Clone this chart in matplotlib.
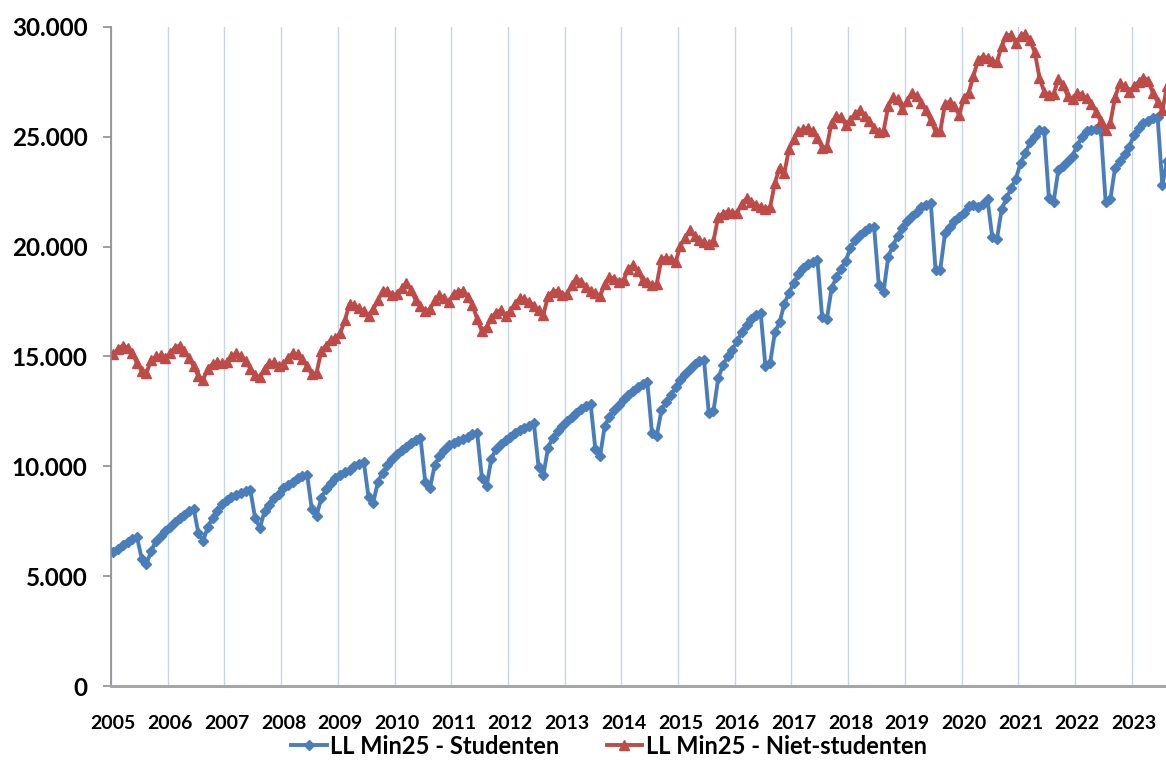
import matplotlib
matplotlib.use("Agg")
import matplotlib.pyplot as plt
from matplotlib.ticker import FuncFormatter, FixedLocator
import numpy as np

plt.rcParams['font.family'] = ['Lato', 'DejaVu Sans']

years = list(range(2005, 2024))
year_labels = [str(y) for y in years]
series_names = ["LL Min25 - Studenten", "LL Min25 - Niet-studenten"]

# monthly values, Jan 2005 .. Aug 2023
studenten = [
    6100, 6250, 6400, 6550, 6700, 6780, 5800, 5550, 6150, 6600, 6850, 7050,   # 2005
    7250, 7450, 7650, 7800, 7950, 8080, 6950, 6600, 7250, 7650, 7950, 8300,   # 2006
    8450, 8600, 8700, 8800, 8870, 8900, 7650, 7200, 7950, 8250, 8550, 8750,   # 2007
    9000, 9150, 9300, 9450, 9550, 9620, 8050, 7750, 8550, 8950, 9250, 9450,   # 2008
    9600, 9750, 9850, 10000, 10100, 10200, 8600, 8350, 9300, 9700, 10050, 10350,  # 2009
    10550, 10750, 10900, 11050, 11200, 11300, 9300, 9000, 10050, 10450, 10750, 10950,  # 2010
    11050, 11150, 11250, 11350, 11450, 11500, 9450, 9100, 10350, 10800, 11000, 11200,  # 2011
    11350, 11500, 11650, 11750, 11850, 11950, 9950, 9600, 10850, 11300, 11600, 11850,  # 2012
    12050, 12250, 12450, 12600, 12750, 12850, 10800, 10450, 11850, 12250, 12550, 12800,  # 2013
    13050, 13250, 13450, 13600, 13750, 13850, 11500, 11400, 12550, 12950, 13250, 13600,  # 2014
    13950, 14200, 14450, 14650, 14800, 14850, 12450, 12500, 14000, 14600, 15000, 15300,  # 2015
    15700, 16100, 16450, 16700, 16900, 16980, 14550, 14700, 16100, 16550, 17400, 17900,  # 2016
    18350, 18750, 19050, 19200, 19320, 19400, 16800, 16700, 18100, 18600, 19000, 19350,  # 2017
    19950, 20300, 20550, 20700, 20850, 20900, 18250, 17950, 19550, 20050, 20500, 20850,  # 2018
    21150, 21400, 21600, 21800, 21900, 21980, 18950, 18950, 20600, 20900, 21150, 21350,  # 2019
    21550, 21850, 21900, 21800, 21950, 22150, 20450, 20350, 21700, 22200, 22650, 23100,  # 2020
    23800, 24250, 24750, 25050, 25300, 25250, 22200, 22050, 23500, 23650, 23900, 24150,  # 2021
    24600, 25000, 25250, 25300, 25350, 25250, 22050, 22150, 23600, 23900, 24200, 24550,  # 2022
    25080, 25400, 25630, 25700, 25840, 25900, 22800, 23900,                              # 2023
]

niet_studenten = [
    15100, 15350, 15500, 15400, 15150, 14700, 14350, 14250, 14850, 15000, 15050, 14950,  # 2005
    15150, 15400, 15500, 15250, 14950, 14550, 14100, 13950, 14450, 14650, 14750, 14700,  # 2006
    14750, 15000, 15150, 15000, 14800, 14450, 14150, 14050, 14450, 14700, 14750, 14550,  # 2007
    14650, 14950, 15150, 15100, 14900, 14550, 14200, 14250, 15250, 15500, 15750, 15850,  # 2008
    16050, 16650, 17400, 17350, 17200, 17050, 16850, 17150, 17550, 18000, 18000, 17800,  # 2009
    17850, 18100, 18350, 18050, 17550, 17300, 17050, 17150, 17550, 17800, 17650, 17500,  # 2010
    17850, 17950, 18000, 17700, 17350, 16700, 16150, 16350, 16750, 17000, 17100, 16850,  # 2011
    17050, 17400, 17650, 17600, 17500, 17300, 17100, 16900, 17750, 17950, 18000, 17800,  # 2012
    17850, 18250, 18550, 18400, 18150, 18000, 17900, 17750, 18300, 18600, 18550, 18400,  # 2013
    18500, 19000, 19150, 18900, 18500, 18400, 18250, 18300, 19450, 19500, 19450, 19300,  # 2014
    20050, 20400, 20750, 20500, 20300, 20200, 20100, 20250, 21350, 21500, 21600, 21550,  # 2015
    21550, 21950, 22200, 22050, 21900, 21800, 21700, 21800, 22900, 23600, 23350, 24450,  # 2016
    24900, 25250, 25350, 25400, 25250, 24950, 24500, 24550, 25650, 25950, 25900, 25550,  # 2017
    25750, 26050, 26200, 25950, 25700, 25400, 25200, 25250, 26400, 26800, 26700, 26250,  # 2018
    26650, 27000, 26850, 26550, 26200, 25750, 25250, 25250, 26500, 26600, 26400, 26000,  # 2019
    26750, 27000, 27750, 28500, 28650, 28600, 28450, 28400, 29150, 29600, 29650, 29250,  # 2020
    29600, 29700, 29400, 28850, 27700, 27050, 26900, 26950, 27650, 27350, 26850, 26700,  # 2021
    27000, 26900, 26750, 26500, 26150, 25700, 25300, 25650, 26800, 27450, 27300, 27050,  # 2022
    27300, 27500, 27700, 27550, 27000, 26600, 26200, 27300,                              # 2023
]

blue = '#4A7EBB'
red = '#BE4B48'

fig = plt.figure(figsize=(11.66, 7.69), dpi=100)
ax = fig.add_axes([111/1166, 1 - 686/769, 1 - 111/1166 + 0.0005, (686 - 27)/769])

x_s = np.arange(len(studenten))
x_n = np.arange(len(niet_studenten))

ax.plot(x_s, studenten, color=blue, lw=2.8, marker='D', ms=5.2,
        markerfacecolor=blue, markeredgecolor=blue, label=series_names[0], clip_on=True)
ax.plot(x_n, niet_studenten, color=red, lw=2.8, marker='^', ms=7,
        markerfacecolor=red, markeredgecolor=red, label=series_names[1], clip_on=True)

ax.set_xlim(-0.5, 222.9)
ax.set_ylim(0, 30000)

# year gridlines between Dec and Jan, labels centred on Jan
grid_pos = [12 * k - 0.5 for k in range(len(years))]
ax.xaxis.set_major_locator(FixedLocator(grid_pos))
ax.xaxis.set_minor_locator(FixedLocator([12 * k for k in range(len(years))]))
ax.set_xticklabels([''] * len(grid_pos))
ax.xaxis.set_minor_formatter(FuncFormatter(lambda v, p: year_labels[int(round(v / 12))]))
ax.tick_params(axis='x', which='major', length=0)
ax.tick_params(axis='x', which='minor', length=0, pad=21, labelsize=14)
for lab in ax.xaxis.get_minorticklabels():
    lab.set_fontweight('bold')
ax.grid(axis='x', which='major', color='#C5D6EC', lw=1.0)
ax.set_axisbelow(True)

ax.set_yticks(range(0, 30001, 5000))
ax.yaxis.set_major_formatter(FuncFormatter(lambda v, p: f"{int(v):,}".replace(",", ".")))
ax.tick_params(axis='y', length=6, width=1.2, color='#8C8C8C', pad=11, labelsize=17.5)
for lab in ax.get_yticklabels():
    lab.set_fontweight('bold')

for s in ['top', 'right']:
    ax.spines[s].set_visible(False)
ax.spines['left'].set_color('#8C8C8C')
ax.spines['left'].set_linewidth(1.2)
ax.spines['bottom'].set_color('#A6A6A6')
ax.spines['bottom'].set_linewidth(2.2)

leg = fig.legend(loc='center', bbox_to_anchor=(609/1166, 1 - 746/769), ncol=2, frameon=False,
                 prop={'weight': 'bold', 'size': 17}, handlelength=1.5, handletextpad=0.15,
                 columnspacing=2.0)

fig.savefig('out.png', dpi=100)
